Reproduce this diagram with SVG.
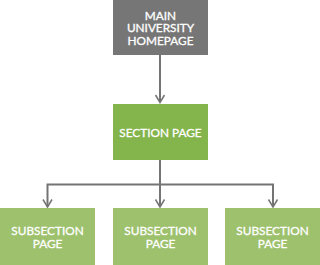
<svg xmlns="http://www.w3.org/2000/svg" width="320" height="265" viewBox="0 0 320 265">
<defs>
<style>
.lbl{font-family:Lato,"Liberation Sans",sans-serif;font-size:11.8px;fill:#ffffff;stroke:#ffffff;stroke-width:0.3;text-anchor:middle}
.conn{fill:none;stroke:#747474;stroke-width:2}
.head{fill:none;stroke:#747474;stroke-width:1.5}
.gray{fill:#767676}
.sec{fill:#84b44c}
.sub{fill:#9dc16d}
</style>
</defs>
<rect width="320" height="265" fill="#ffffff"/>
<g id="connectors">
<path class="conn" d="M160,55 V102"/>
<path class="head" d="M155.5,95 L160,102.5 L164.5,95"/>
<path class="conn" d="M160,160 V207"/>
<path class="conn" d="M47.5,207 V184.5 H273 V207"/>
<path class="head" d="M43,199.5 L47.5,207 L52,199.5"/>
<path class="head" d="M155.5,199.5 L160,207 L164.5,199.5"/>
<path class="head" d="M268.5,199.5 L273,207 L277.5,199.5"/>
</g>
<g id="main">
<rect class="gray" x="113" y="0" width="95" height="55"/>
<text class="lbl" x="160.5" y="19.5">MAIN</text>
<text class="lbl" x="160.5" y="32.3">UNIVERSITY</text>
<text class="lbl" x="160.5" y="45">HOMEPAGE</text>
</g>
<g id="section">
<rect class="sec" x="113" y="104" width="95" height="56"/>
<text class="lbl" x="160.5" y="137">SECTION PAGE</text>
</g>
<g id="sub1">
<rect class="sub" x="0" y="208" width="95" height="57"/>
<text class="lbl" x="47.5" y="235">SUBSECTION</text>
<text class="lbl" x="47.5" y="248.3">PAGE</text>
</g>
<g id="sub2">
<rect class="sub" x="113" y="208" width="95" height="57"/>
<text class="lbl" x="160.5" y="235">SUBSECTION</text>
<text class="lbl" x="160.5" y="248.3">PAGE</text>
</g>
<g id="sub3">
<rect class="sub" x="225" y="208" width="95" height="57"/>
<text class="lbl" x="272.5" y="235">SUBSECTION</text>
<text class="lbl" x="272.5" y="248.3">PAGE</text>
</g>
</svg>
